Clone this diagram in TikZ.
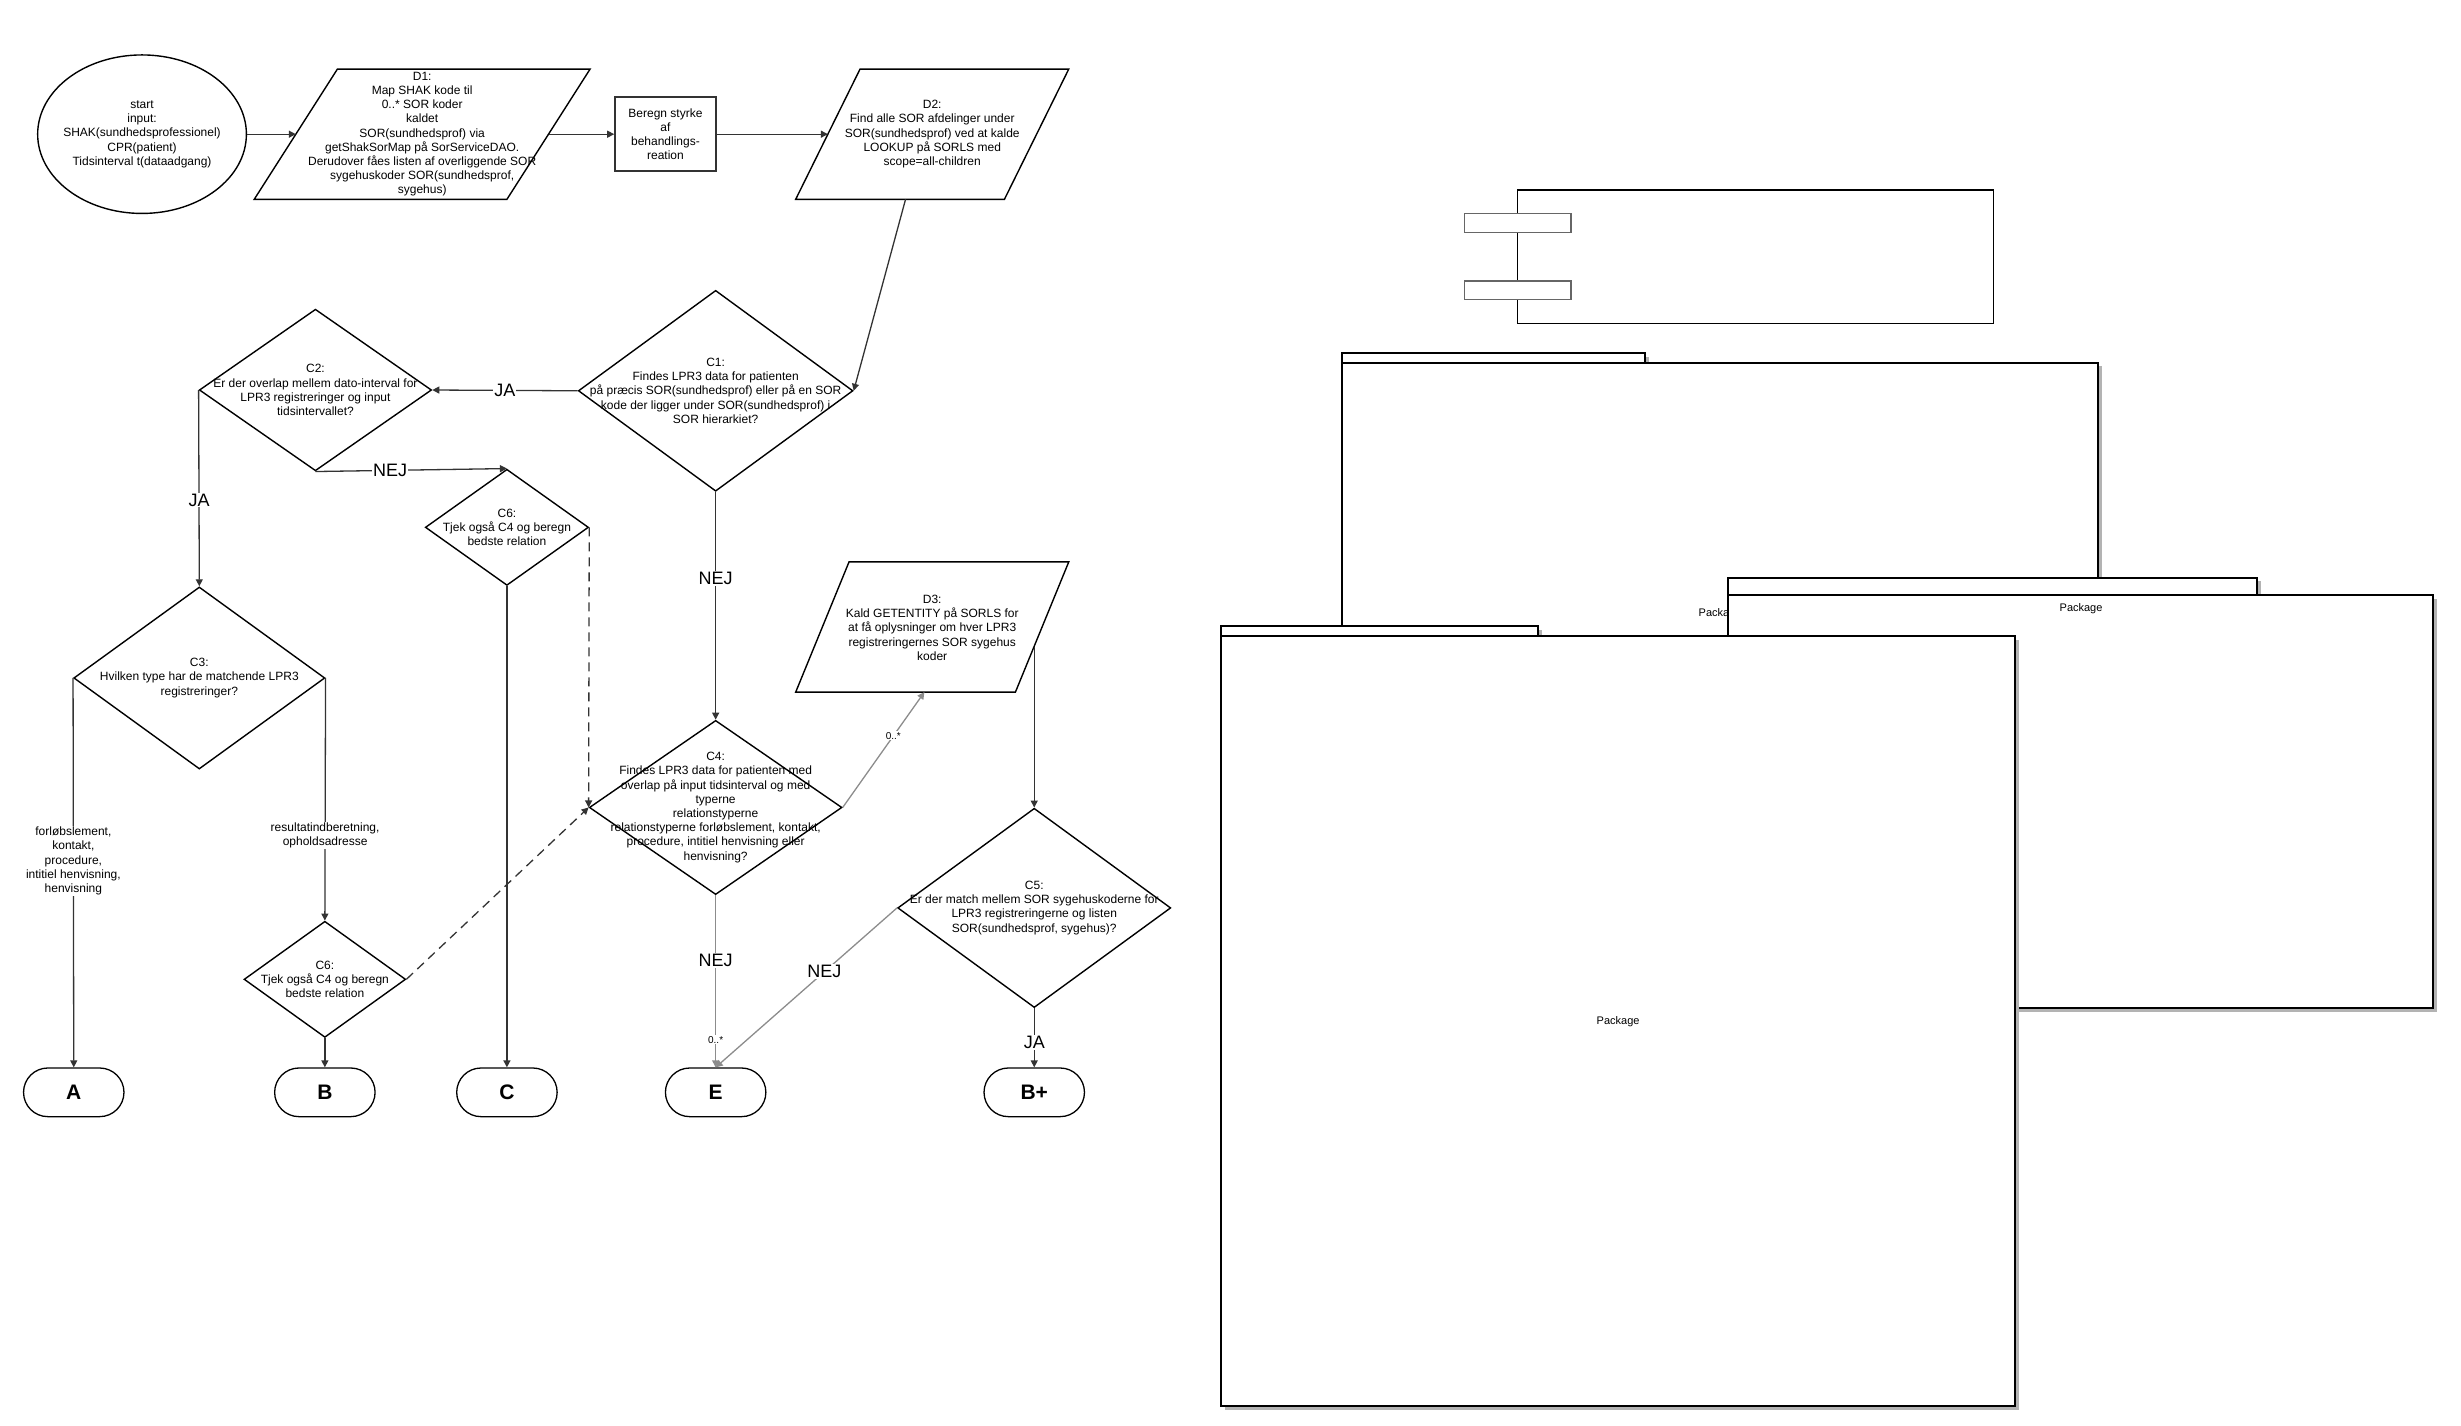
\documentclass[tikz,border=0pt]{standalone}
\usepackage{fontspec}
\setmainfont{Liberation Sans}
\usepackage{xcolor}
\definecolor{flow-dark}{HTML}{333333}
\definecolor{flow-grey}{HTML}{8C8C8C}
\definecolor{flow-shadow}{HTML}{B3B3B3}
\usepackage{tikz}
\usetikzlibrary{shapes.geometric, arrows.meta}
\newlength\pxu
\setlength\pxu{1.5694pt}

\begin{document}
\begin{tikzpicture}[x=1.5694pt, y=-1.5694pt,
    txt/.style={align=center, font=\fontsize{12}{14.2}\selectfont, inner sep=0pt},
    dec/.style={diamond, draw=black, line width=1.4pt, inner sep=0pt},
    endbox/.style={draw=black, line width=1.3pt, rounded corners=15.5\pxu,
        minimum width=64\pxu, minimum height=31\pxu, font=\fontsize{21}{21}\selectfont\bfseries},
    conn/.style={draw=flow-dark, line width=1.3pt, -{Triangle[length=7pt,width=7pt]}},
    softconn/.style={conn, draw=flow-grey},
    dashconn/.style={conn, dash pattern=on 9pt off 6pt},
    yesno/.style={fill=white, inner sep=1pt, font=\fontsize{18}{18}\selectfont},
    branch/.style={fill=white, inner sep=1pt, align=center, font=\fontsize{12}{14.2}\selectfont},
    mult/.style={fill=white, inner sep=1pt, font=\fontsize{10}{10}\selectfont},
    pkgline/.style={draw=black, line width=2pt, fill=white},
    pkglabel/.style={font=\fontsize{11}{11}\selectfont, inner sep=0pt}
]

    % Canvas
    \useasboundingbox (0,0) rectangle (1568.1,908.6);

    % Start
    \node[ellipse, draw=black, line width=1.4pt, inner sep=0pt,
          minimum width=133\pxu, minimum height=101\pxu,
          label={[txt]center:{start\\input:\\SHAK(sundhedsprofessionel)\\CPR(patient)\\Tidsinterval t(dataadgang)}}]
          (start) at (90.5,85.5) {};

    % D1
    \draw[line width=1.4pt] (215,44) -- (376,44) -- (323,127) -- (162,127) -- cycle;
    \node[txt] (d1) at (269,85.5) {D1:\\Map SHAK kode til\\0..* SOR koder\\kaldet\\SOR(sundhedsprof) via\\getShakSorMap på SorServiceDAO.\\Derudover fåes listen af overliggende SOR\\sygehuskoder SOR(sundhedsprof,\\sygehus)};
    \coordinate (d1in) at (188.5,85.5);
    \coordinate (d1out) at (349.5,85.5);

    % Beregn styrke
    \node[txt, draw=black!80, line width=2pt, minimum width=64\pxu, minimum height=47\pxu]
          (beregn) at (424,85.5) {Beregn styrke\\af\\behandlings-\\reation};

    % D2
    \draw[line width=1.4pt] (548,44) -- (681,44) -- (640,127) -- (507,127) -- cycle;
    \node[txt] (d2) at (594,85.5) {D2:\\Find alle SOR afdelinger under\\SOR(sundhedsprof) ved at kalde\\LOOKUP på SORLS med\\scope=all-children};
    \coordinate (d2in) at (527.5,85.5);
    \coordinate (d2out) at (577,127);

    % C1
    \node[dec, minimum width=175\pxu, minimum height=128\pxu,
          label={[txt]center:{C1:\\Findes LPR3 data for patienten\\på præcis SOR(sundhedsprof) eller på en SOR\\kode der ligger under SOR(sundhedsprof) i\\SOR hierarkiet?}}]
          (c1) at (456,249) {};

    % C2
    \node[dec, minimum width=148\pxu, minimum height=103\pxu,
          label={[txt]center:{C2:\\Er der overlap mellem dato-interval for\\LPR3 registreringer og input\\tidsintervallet?}}]
          (c2) at (201,248.5) {};

    % C6 (upper)
    \node[dec, minimum width=104\pxu, minimum height=74\pxu,
          label={[txt]center:{C6:\\Tjek også C4 og beregn\\bedste relation}}]
          (c6a) at (323,336) {};

    % C3
    \node[dec, minimum width=160\pxu, minimum height=116\pxu,
          label={[txt]center:{C3:\\Hvilken type har de matchende LPR3\\registreringer?}}]
          (c3) at (127,432) {};

    % D3
    \draw[line width=1.4pt] (541,358) -- (681,358) -- (647,441) -- (507,441) -- cycle;
    \node[txt] (d3) at (594,400) {D3:\\Kald GETENTITY på SORLS for\\at få oplysninger om hver LPR3\\registreringernes SOR sygehus\\koder};
    \coordinate (d3in) at (589,441);
    \coordinate (d3out) at (659,412);

    % C4
    \node[dec, minimum width=161\pxu, minimum height=111\pxu,
          label={[txt]center:{C4:\\Findes LPR3 data for patienten med\\overlap på input tidsinterval og med\\typerne\\relationstyperne\\relationstyperne forløbslement, kontakt,\\procedure, intitiel henvisning eller\\henvisning?}}]
          (c4) at (456,514.5) {};

    % C5
    \node[dec, minimum width=174\pxu, minimum height=127\pxu,
          label={[txt]center:{C5:\\Er der match mellem SOR sygehuskoderne for\\LPR3 registreringerne og listen\\SOR(sundhedsprof, sygehus)?}}]
          (c5) at (659,578.5) {};

    % C6 (lower)
    \node[dec, minimum width=103\pxu, minimum height=74\pxu,
          label={[txt]center:{C6:\\Tjek også C4 og beregn\\bedste relation}}]
          (c6b) at (207,624) {};

    % Terminals
    \node[endbox] (a) at (47,696) {A};
    \node[endbox] (b) at (207,696) {B};
    \node[endbox] (c) at (323,696) {C};
    \node[endbox] (e) at (456,696) {E};
    \node[endbox] (bplus) at (659,696) {B+};

    % Connectors
    \draw[conn] (start) -- (d1in);
    \draw[conn] (d1out) -- (beregn);
    \draw[conn] (beregn) -- (d2in);
    \draw[conn] (d2out) -- (c1.east);
    \draw[conn] (c1.west) -- node[yesno] (ja1) {JA} (c2.east);
    \draw[conn] (c2.south) -- node[yesno, pos=0.39] (nej1) {NEJ} (c6a.north);
    \draw[conn] (c2.west) -- node[yesno, pos=0.56] (ja2) {JA} (c3.north);
    \draw[conn] (c1.south) -- node[yesno, pos=0.38] (nej2) {NEJ} (c4.north);
    \draw[conn] (c6a.south) -- (c.north);
    \draw[dashconn] (c6a.east) -- (c4.west);
    \draw[dashconn] (c6b.east) -- (c4.west);
    \draw[conn] (c3.west) -- node[branch, pos=0.47] (typea)
        {forløbslement,\\kontakt,\\procedure,\\intitiel henvisning,\\henvisning} (a.north);
    \draw[conn] (c3.east) -- node[branch, pos=0.65] (typeb)
        {resultatindberetning,\\opholdsadresse} (c6b.north);
    \draw[conn] (c6b.south) -- (b.north);
    \draw[softconn] (c4.east) -- node[mult, pos=0.62] (many1) {0..*} (d3in);
    \draw[softconn] (c4.south) -- node[yesno, pos=0.38] (nej3) {NEJ}
        node[mult, pos=0.84] (many2) {0..*} (e.north);
    \draw[conn] (d3out) -- (c5.north);
    \draw[softconn] (c5.west) -- node[yesno, pos=0.4] (nej4) {NEJ} (e.north);
    \draw[conn] (c5.south) -- node[yesno, pos=0.58] (ja3) {JA} (bplus.north);

    % Component
    \draw[line width=1.3pt] (967,121) rectangle (1270,206);
    \draw[draw=black!60, line width=1.3pt, fill=white] (933,136) rectangle (1001,148);
    \draw[draw=black!60, line width=1.3pt, fill=white] (933,179) rectangle (1001,191);

    % Package 1
    \fill[flow-shadow] (857.5,227.5) rectangle (1050.5,233.5);
    \fill[flow-shadow] (857.5,233.5) rectangle (1339.5,553.5);
    \draw[pkgline] (855,225) rectangle (1048,231);
    \draw[pkgline] (855,231) rectangle (1337,551);
    \node[pkglabel] (pkg1) at (1096,391) {Package};

    % Package 2
    \fill[flow-shadow] (1103.5,370.5) rectangle (1440.5,381.5);
    \fill[flow-shadow] (1103.5,381.5) rectangle (1552.5,644.5);
    \draw[pkgline] (1101,368) rectangle (1438,379);
    \draw[pkgline] (1101,379) rectangle (1550,642);
    \node[pkglabel] (pkg2) at (1326,388) {Package};

    % Package 3
    \fill[flow-shadow] (780.5,401.5) rectangle (982.5,407.5);
    \fill[flow-shadow] (780.5,407.5) rectangle (1286.5,898.5);
    \draw[pkgline] (778,399) rectangle (980,405);
    \draw[pkgline] (778,405) rectangle (1284,896);
    \node[pkglabel] (pkg3) at (1031,651) {Package};

\end{tikzpicture}
\end{document}
